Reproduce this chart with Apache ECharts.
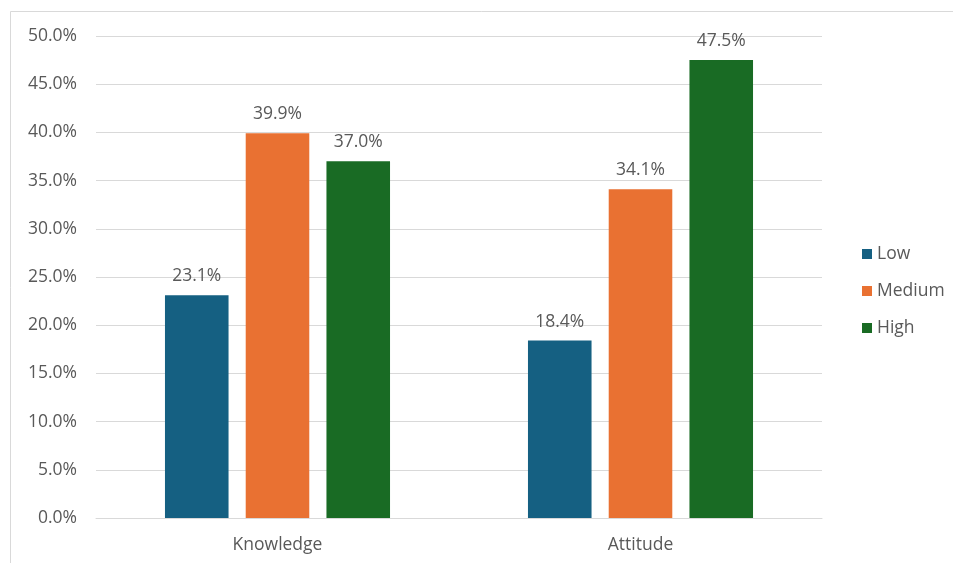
<!DOCTYPE html>
<html>
<head>
<meta charset="utf-8">
<script src="https://cdn.jsdelivr.net/npm/echarts@6/dist/echarts.min.js"></script>
<style>html,body{margin:0;padding:0;background:#fff;}#chart{width:953px;height:563px;}</style>
</head>
<body>
<div id="chart"></div>
<script>
const categories = ['Knowledge', 'Attitude'];
const seriesNames = ['Low', 'Medium', 'High'];
const lowValues = [23.1, 18.4];
const mediumValues = [39.9, 34.1];
const highValues = [37.0, 47.5];
const colors = ['#156082', '#E97132', '#196B24'];

const font = '"Open Sans", "Noto Sans", sans-serif';
const textColor = '#595959';
const fs = 17.5;
const chart = echarts.init(document.getElementById('chart'));
const values = [lowValues, mediumValues, highValues];

chart.setOption({
  animation: false,
  backgroundColor: '#fff',
  textStyle: { fontFamily: font },
  graphic: [{
    type: 'polyline',
    shape: { points: [[10.5, 563], [10.5, 11.5], [953, 11.5]] },
    style: { stroke: '#d9d9d9', lineWidth: 1, fill: null },
    silent: true
  }],
  grid: { left: 96, right: 131, top: 36, bottom: 45, containLabel: false },
  legend: {
    orient: 'vertical',
    left: 857,
    top: 240,
    itemGap: 19,
    itemWidth: 10,
    itemHeight: 10,
    icon: 'rect',
    textStyle: { color: textColor, fontSize: fs, fontFamily: font },
    data: seriesNames
  },
  xAxis: {
    type: 'category',
    data: categories,
    axisLine: { lineStyle: { color: '#d9d9d9' } },
    axisTick: { show: false },
    axisLabel: { color: textColor, fontSize: fs, fontFamily: font, margin: 18 }
  },
  yAxis: {
    type: 'value',
    min: 0,
    max: 50,
    interval: 5,
    axisLine: { show: false },
    axisTick: { show: false },
    splitLine: { lineStyle: { color: '#d9d9d9' } },
    axisLabel: {
      color: textColor, fontSize: fs, fontFamily: font, margin: 19,
      formatter: v => v.toFixed(1) + '%'
    }
  },
  series: seriesNames.map((name, i) => ({
    name,
    type: 'bar',
    data: values[i],
    barGap: '27%',
    barCategoryGap: '38%',
    itemStyle: { color: colors[i] },
    label: {
      show: true,
      position: 'top',
      distance: 10,
      color: textColor,
      fontSize: fs,
      fontFamily: font,
      formatter: p => p.value.toFixed(1) + '%'
    }
  }))
});
</script>
</body>
</html>
